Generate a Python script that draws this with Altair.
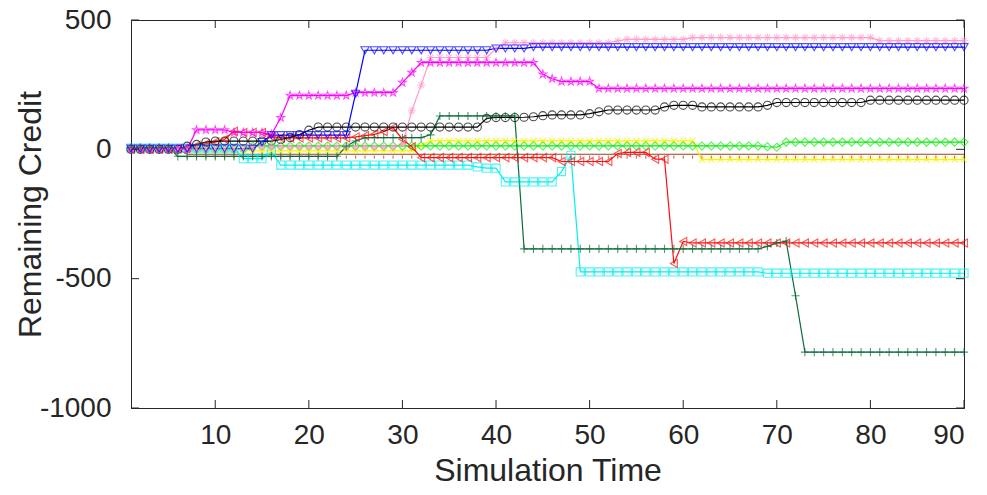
import altair as alt
import pandas as pd

# time steps 1..90
t = list(range(1, 91))

blue = [3]*13 + [2, 28] + [55]*9 + [215] + [383]*14 + [390]*4 + [395]*47
magenta = [0]*7 + [75]*4 + [65]*4 + [57, 122] + [208]*7 + [219]*5 + [258, 297] + [335]*13 + [290, 273] + [262]*4 + [235]*40
pink = [0]*13 + [10]*16 + [20, 149, 249] + [355]*7 + [388] + [412]*12 + [419] + [425]*7 + [432]*20 + [420]*10
black = [0]*6 + [12, 19, 28] + [32]*7 + [38, 46, 57, 74] + [86]*18 + [120, 123, 123, 123, 124, 126, 130] + [133]*4 + [138, 145] + [152]*6 + [164] + [170]*3 + [164]*7 + [170] + [181]*10 + [190]*11
dkgreen = [8]*5 + [-27]*18 + [12, 32] + [45]*7 + [56] + [129]*9 + [-385]*26 + [-375, -362, -355, -566] + [-784]*18
red = [0]*5 + [3, 8, 15, 22, 28, 38, 70, 65, 65, 65, 50] + [44]*8 + [48, 53, 58, 68, 84, 39, 10] + [-32]*15 + [-47]*6 + [-16, -12, -12, -12, -38, -38, -441, -356] + [-362]*30
cyan = [5]*12 + [-36]*3 + [-10] + [-61]*21 + [-68, -73, -73] + [-126]*6 + [-86, -23] + [-474]*20 + [-479]*22
yellow = [0]*13 + [-6]*18 + [15] + [33]*29 + [-40]*29
green = [0]*13 + [13]*55 + [10, 8] + [28]*20
brown = [0]*6 + [-19]*84

series_names = ["brown", "yellow", "green", "cyan", "red", "black", "pink", "magenta", "blue", "dkgreen"]
series_vals = [brown, yellow, green, cyan, red, black, pink, magenta, blue, dkgreen]
colors = ["#a0401e", "#f5f500", "#00f000", "#00f0f0", "#ff1010", "#000000", "#ff9ccc", "#ff00ff", "#0000ff", "#0b6b3a"]

STAR = "M0,-1L0.235,-0.324L0.951,-0.309L0.380,0.124L0.588,0.809L0,0.4L-0.588,0.809L-0.380,0.124L-0.951,-0.309L-0.235,-0.324Z"
ASTER = "M-1,0L1,0M0,-1L0,1M-0.7,-0.7L0.7,0.7M-0.7,0.7L0.7,-0.7"
PLUS = "M-1,0L1,0M0,-1L0,1"
XMARK = "M-0.75,-0.75L0.75,0.75M-0.75,0.75L0.75,-0.75"
DOT = "M0,0.3L0,1.1"
shapes = [DOT, XMARK, "diamond", "square", "triangle-left", "circle", ASTER, STAR, "triangle-down", PLUS]

rows = []
for name, vals in zip(series_names, series_vals):
    for ti, v in zip(t, vals):
        rows.append({"t": ti, "v": v, "s": name})
df = pd.DataFrame(rows)

xticks = [10, 20, 30, 40, 50, 60, 70, 80, 90]
yticks = [-1000, -500, 0, 500]

W, H = 833, 388
FONT = "Liberation Sans"
AX = "#262626"
FS = 28
TFS = 32

xs = alt.Scale(domain=[1, 90], nice=False, zero=False)
ys = alt.Scale(domain=[-1000, 500], nice=False, zero=False)
cs = alt.Scale(domain=series_names, range=colors)
ss = alt.Scale(domain=series_names, range=shapes)

xaxis = alt.Axis(values=xticks, grid=False, tickSize=0, labelFontSize=FS, labelFont=FONT,
                 labelColor=AX, domainColor=AX, labelPadding=13, title="Simulation Time",
                 titleFont=FONT, titleFontSize=TFS, titleFontWeight="normal", titleColor=AX,
                 titleX=W / 2, titleY=62, titleBaseline="middle", titleAlign="center")
yaxis = alt.Axis(values=yticks, grid=False, tickSize=0, labelFontSize=FS, labelFont=FONT,
                 labelExpr="'' + datum.value",
                 labelColor=AX, domainColor=AX, labelPadding=20, title="Remaining Credit",
                 titleFont=FONT, titleFontSize=TFS, titleFontWeight="normal", titleColor=AX,
                 titleX=-101, titleY=H / 2, titleBaseline="middle", titleAlign="center",
                 titleAngle=270)

base = alt.Chart(df)
lines = base.mark_line(strokeWidth=1.2).encode(
    x=alt.X("t:Q", scale=xs, axis=xaxis),
    y=alt.Y("v:Q", scale=ys, axis=yaxis),
    color=alt.Color("s:N", scale=cs, legend=None),
    detail="s:N",
)
points = base.mark_point(filled=False, size=66, strokeWidth=1.1).encode(
    x=alt.X("t:Q", scale=xs),
    y=alt.Y("v:Q", scale=ys),
    color=alt.Color("s:N", scale=cs, legend=None),
    shape=alt.Shape("s:N", scale=ss, legend=None),
)

xt = pd.DataFrame({"x": xticks})
yt = pd.DataFrame({"y": yticks})
xb = alt.Chart(xt).mark_rule(color=AX, strokeWidth=1).encode(
    x=alt.X("x:Q", scale=xs), y=alt.value(H), y2=alt.value(H - 8))
xtp = alt.Chart(xt).mark_rule(color=AX, strokeWidth=1).encode(
    x=alt.X("x:Q", scale=xs), y=alt.value(0), y2=alt.value(8))
yl = alt.Chart(yt).mark_rule(color=AX, strokeWidth=1).encode(
    y=alt.Y("y:Q", scale=ys), x=alt.value(0), x2=alt.value(8))
yr = alt.Chart(yt).mark_rule(color=AX, strokeWidth=1).encode(
    y=alt.Y("y:Q", scale=ys), x=alt.value(W), x2=alt.value(W - 8))

chart = alt.layer(lines, points, xb, xtp, yl, yr).properties(
    width=W, height=H,
    autosize=alt.AutoSizeParams(type="none"),
    padding={"left": 123, "top": 12, "right": 15, "bottom": 85},
    background="white",
).configure_view(stroke=AX, strokeWidth=1)

chart.save("out.html", embed_options={"renderer": "svg", "actions": False})
